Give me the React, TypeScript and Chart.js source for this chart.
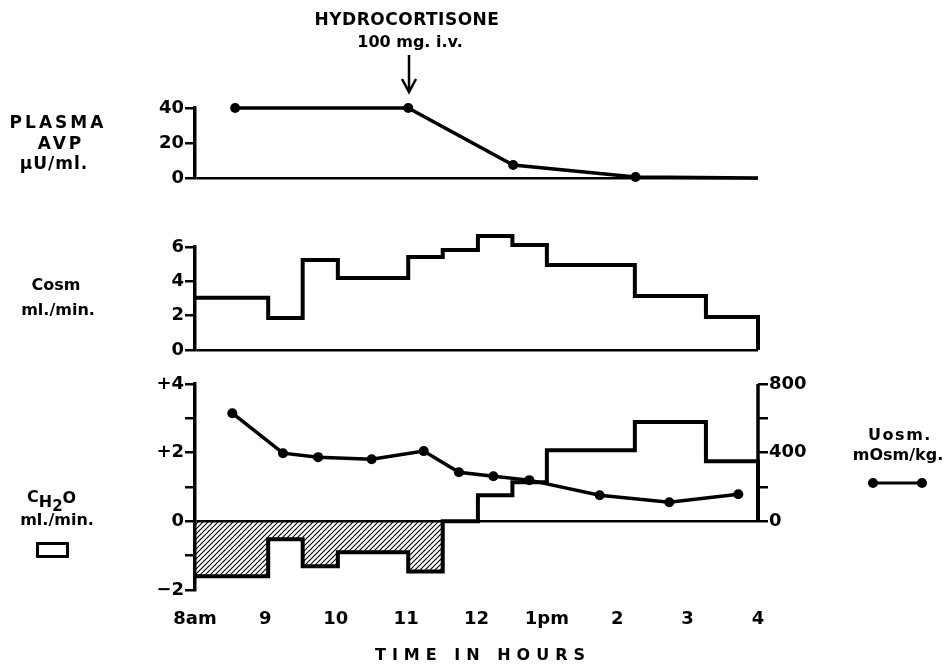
import React, { useEffect, useRef } from 'react';
import { Chart, registerables } from 'chart.js';

Chart.register(...registerables);

const FONT = '"DejaVu Sans", "Liberation Sans", Arial, sans-serif';

// ---- shared time axis ----
const hourTicks = [8, 9, 10, 11, 12, 13, 14, 15, 16];
const hourLabels = ['8am', '9', '10', '11', '12', '1pm', '2', '3', '4'];

// ---- Plasma AVP (µU/ml) ----
const avpHours = [8.57, 11.03, 12.52, 14.26, 16];
const avpValues = [40, 40, 7.4, 0.6, 0];
const avpMarked = [true, true, true, true, false];
const avpTickValues = [0, 20, 40];
const avpTickLabels = ['0', '20', '40'];

// ---- collection period edges (hours) ----
const periodEdges = [8, 9.04, 9.53, 10.03, 11.03, 11.52, 12.02, 12.51, 13.0, 14.25, 15.26, 16];

// ---- Cosm (ml/min) ----
const cosmValues = [3.05, 1.86, 5.24, 4.19, 5.42, 5.82, 6.64, 6.12, 4.95, 3.14, 1.92];
const cosmTickValues = [0, 2, 4, 6];
const cosmTickLabels = ['0', '2', '4', '6'];

// ---- CH2O (ml/min) ----
const ch2oValues = [-1.6, -0.52, -1.31, -0.9, -1.46, 0, 0.76, 1.14, 2.07, 2.89, 1.75];
const ch2oTickValues = [-2, -1, 0, 1, 2, 3, 4];
const ch2oTickLabels = ['\u22122', '', '0', '', '+2', '', '+4'];

// ---- Uosm (mOsm/kg) ----
const uosmHours = [8.53, 9.25, 9.75, 10.51, 11.25, 11.75, 12.24, 12.75, 13.75, 14.74, 15.72];
const uosmValues = [630, 397, 374, 362, 409, 286, 263, 240, 152, 111, 158];
const uosmTickValues = [0, 200, 400, 600, 800];
const uosmTickLabels = ['0', '', '400', '', '800'];
const uosmAxisSpan = [0, 800];

function stepPoints(edges: number[], values: number[]) {
  const pts = values.map((v, i) => ({ x: edges[i], y: v }));
  const last = edges[edges.length - 1];
  pts.push({ x: last, y: values[values.length - 1] });
  pts.push({ x: last, y: 0 });
  return pts;
}

const tickFont = { family: FONT, size: 18, weight: 'bold' as const };

function yAxis(min: number, max: number, values: number[], labels: string[], position: 'left' | 'right', zeroLine: boolean) {
  return {
    type: 'linear' as const,
    position,
    min,
    max,
    afterFit: (s: any) => {
      s.width = 60;
    },
    afterBuildTicks: (s: any) => {
      s.ticks = values.map((v) => ({ value: v }));
    },
    ticks: {
      autoSkip: false,
      padding: 1,
      color: '#000',
      font: tickFont,
      callback: (v: any) => {
        const i = values.indexOf(Number(v));
        return i >= 0 ? labels[i] : '';
      },
    },
    border: { display: position === 'left', color: '#000', width: 3.5 },
    grid: {
      drawOnChartArea: zeroLine,
      drawTicks: true,
      tickLength: 10,
      tickColor: '#000',
      tickWidth: 2.5,
      lineWidth: 2.5,
      color: (c: any) => (c.tick && c.tick.value === 0 ? '#000' : 'rgba(0,0,0,0)'),
    },
  };
}

const hiddenX = { type: 'linear' as const, min: 8, max: 16, display: false };

const baseOptions = {
  responsive: false,
  animation: false as const,
  events: [] as any[],
  plugins: { legend: { display: false }, tooltip: { enabled: false } },
};

function makeHatch(ctx: CanvasRenderingContext2D) {
  const pc = document.createElement('canvas');
  pc.width = 5;
  pc.height = 5;
  const g = pc.getContext('2d')!;
  g.strokeStyle = '#000';
  g.lineWidth = 1.1;
  g.beginPath();
  g.moveTo(-1, 6);
  g.lineTo(6, -1);
  g.moveTo(-3.5, 3.5);
  g.lineTo(3.5, -3.5);
  g.moveTo(1.5, 8.5);
  g.lineTo(8.5, 1.5);
  g.stroke();
  return ctx.createPattern(pc, 'repeat')!;
}

const Label = ({ x, y, size = 16, ls = 0, children }: any) => (
  <div
    style={{
      position: 'absolute',
      left: x,
      top: y,
      transform: 'translate(-50%, -50%)',
      whiteSpace: 'nowrap',
      fontSize: size,
      lineHeight: 1,
      letterSpacing: ls,
    }}
  >
    {children}
  </div>
);

export default function App() {
  const r1 = useRef<HTMLCanvasElement>(null);
  const r2 = useRef<HTMLCanvasElement>(null);
  const r3 = useRef<HTMLCanvasElement>(null);

  useEffect(() => {
    const charts: Chart[] = [];
    Chart.defaults.font.family = FONT;

    // Panel 1: Plasma AVP
    charts.push(
      new Chart(r1.current!, {
        type: 'line',
        data: {
          datasets: [
            {
              data: avpHours.map((h, i) => ({ x: h, y: avpValues[i] })),
              borderColor: '#000',
              borderWidth: 3.5,
              pointRadius: avpMarked.map((m) => (m ? 5 : 0)),
              pointBackgroundColor: '#000',
              pointBorderWidth: 0,
              clip: false as any,
            },
          ],
        },
        options: {
          ...baseOptions,
          layout: { padding: { left: 135, right: 188, top: 108, bottom: 22 } },
          scales: {
            x: hiddenX,
            y: yAxis(0, 40, avpTickValues, avpTickLabels, 'left', true),
          },
        } as any,
      })
    );

    // Panel 2: Cosm
    charts.push(
      new Chart(r2.current!, {
        type: 'line',
        data: {
          datasets: [
            {
              data: stepPoints(periodEdges, cosmValues),
              stepped: 'before',
              borderColor: '#000',
              borderWidth: 4,
              pointRadius: 0,
              clip: false as any,
            },
          ],
        },
        options: {
          ...baseOptions,
          layout: { padding: { left: 135, right: 188, top: 47, bottom: 20 } },
          scales: {
            x: hiddenX,
            y: yAxis(0, 6, cosmTickValues, cosmTickLabels, 'left', true),
          },
        } as any,
      })
    );

    // Panel 3: CH2O + Uosm
    const ctx3 = r3.current!.getContext('2d')!;
    const hatch = makeHatch(ctx3);
    charts.push(
      new Chart(r3.current!, {
        type: 'line',
        data: {
          datasets: [
            {
              data: uosmHours.map((h, i) => ({ x: h, y: uosmValues[i] })),
              yAxisID: 'yR',
              borderColor: '#000',
              borderWidth: 3.5,
              pointRadius: 5,
              pointBackgroundColor: '#000',
              pointBorderWidth: 0,
              clip: false as any,
            },
            {
              data: stepPoints(periodEdges, ch2oValues),
              yAxisID: 'y',
              stepped: 'before',
              borderColor: '#000',
              borderWidth: 4,
              pointRadius: 0,
              fill: { target: { value: 0 }, above: 'rgba(0,0,0,0)', below: hatch },
              clip: false as any,
            },
            {
              data: uosmAxisSpan.map((v) => ({ x: 16, y: v })),
              yAxisID: 'yR',
              borderColor: '#000',
              borderWidth: 3.5,
              pointRadius: 0,
              clip: false as any,
            },
          ],
        },
        options: {
          ...baseOptions,
          layout: { padding: { left: 135, right: 128, top: 14, bottom: 34 } },
          scales: {
            x: {
              type: 'linear',
              position: 'bottom',
              min: 8,
              max: 16,
              afterFit: (s: any) => {
                s.height = 40;
              },
              afterBuildTicks: (s: any) => {
                s.ticks = hourTicks.map((v) => ({ value: v }));
              },
              border: { display: false },
              grid: { display: false },
              ticks: {
                autoSkip: false,
                maxRotation: 0,
                padding: 11,
                color: '#000',
                font: tickFont,
                callback: (v: any) => {
                  const i = hourTicks.indexOf(Number(v));
                  return i >= 0 ? hourLabels[i] : '';
                },
              },
            },
            y: yAxis(-2, 4, ch2oTickValues, ch2oTickLabels, 'left', true),
            yR: yAxis(-400, 800, uosmTickValues, uosmTickLabels, 'right', false),
          },
        } as any,
      })
    );

    return () => charts.forEach((c) => c.destroy());
  }, []);

  return (
    <div
      style={{
        position: 'fixed',
        left: 0,
        top: 0,
        width: 946,
        height: 664,
        background: '#fff',
        color: '#000',
        fontFamily: FONT,
        fontWeight: 'bold',
        overflow: 'hidden',
      }}
    >
      <canvas ref={r1} width={946} height={200} style={{ position: 'absolute', left: 0, top: 0 }} />
      <canvas ref={r2} width={946} height={170} style={{ position: 'absolute', left: 0, top: 200 }} />
      <canvas ref={r3} width={946} height={294} style={{ position: 'absolute', left: 0, top: 370 }} />

      <Label x={407} y={19} size={17} ls={0.5}>HYDROCORTISONE</Label>
      <Label x={410} y={42}>100 mg. i.v.</Label>
      <svg width={30} height={45} style={{ position: 'absolute', left: 394, top: 52 }}>
        <line x1={15} y1={3} x2={15} y2={39} stroke="#000" strokeWidth={2.5} />
        <polyline points="8,27 15,40 22,27" fill="none" stroke="#000" strokeWidth={2.5} />
      </svg>

      <Label x={58} y={122} size={17} ls={3}>PLASMA</Label>
      <Label x={61} y={143} size={17} ls={3}>AVP</Label>
      <Label x={54} y={163} size={17} ls={1}>{'\u03BCU/ml.'}</Label>

      <Label x={56} y={285}>Cosm</Label>
      <Label x={58} y={310}>ml./min.</Label>

      <div style={{ position: 'absolute', left: 27, top: 489, fontSize: 16, lineHeight: 1, whiteSpace: 'nowrap' }}>
        <span>C</span>
        <span style={{ position: 'relative', top: 5 }}>H</span>
        <span style={{ position: 'relative', top: 9, fontSize: 15 }}>2</span>
        <span style={{ position: 'relative', top: 1 }}>O</span>
      </div>
      <Label x={57} y={520}>ml./min.</Label>
      <div
        style={{
          position: 'absolute',
          left: 36,
          top: 542,
          width: 27,
          height: 10,
          border: '3px solid #000',
          borderRadius: 1,
        }}
      />

      <Label x={900} y={435} ls={1.5}>Uosm.</Label>
      <Label x={898} y={455}>mOsm/kg.</Label>
      <svg width={70} height={16} style={{ position: 'absolute', left: 863, top: 475 }}>
        <line x1={10} y1={8} x2={59} y2={8} stroke="#000" strokeWidth={3} />
        <circle cx={10} cy={8} r={5} fill="#000" />
        <circle cx={59} cy={8} r={5} fill="#000" />
      </svg>

      <Label x={483} y={655} ls={6}>TIME IN HOURS</Label>
    </div>
  );
}
